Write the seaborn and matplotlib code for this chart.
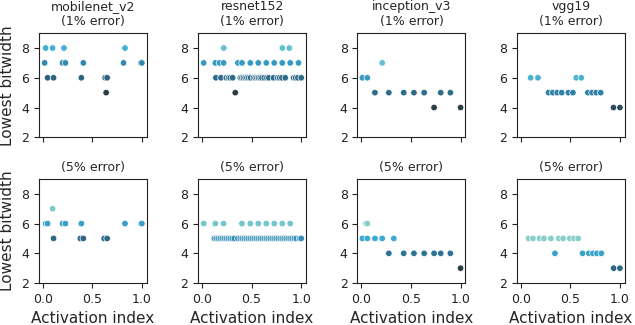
import pandas as pd
import seaborn as sns
import matplotlib.pyplot as plt

models = ["mobilenet_v2", "resnet152", "inception_v3", "vgg19"]
errors = ["(1% error)", "(5% error)"]

# activation index (normalised) and lowest bitwidth
mobilenet_1_x = [0.03, 0.10, 0.215, 0.83, 0.02, 0.20, 0.23, 0.41, 0.815, 0.99, 1.0,
                 0.05, 0.11, 0.39, 0.63, 0.65, 0.64]
mobilenet_1_y = [8, 8, 8, 8, 7, 7, 7, 7, 7, 7, 7, 6, 6, 6, 6, 6, 5]
mobilenet_5_x = [0.10, 0.03, 0.05, 0.20, 0.23, 0.39, 0.83, 0.99, 1.0,
                 0.11, 0.38, 0.41, 0.62, 0.65]
mobilenet_5_y = [7, 6, 6, 6, 6, 6, 6, 6, 6, 5, 5, 5, 5, 5]

resnet_1_x = [0.22, 0.81, 0.88,
              0.017, 0.134, 0.178, 0.218, 0.362, 0.403, 0.487, 0.567, 0.648, 0.728, 0.809,
              0.889, 0.973,
              0.14, 0.191, 0.245, 0.268, 0.285, 0.309, 0.386, 0.403, 0.419, 0.436, 0.453,
              0.470, 0.490, 0.520, 0.537, 0.554, 0.570, 0.587, 0.604, 0.628, 0.654, 0.674,
              0.721, 0.762, 0.782, 0.805, 0.839, 0.923, 0.943, 0.966, 1.0,
              0.335]
resnet_1_y = [8] * 3 + [7] * 13 + [6] * 31 + [5]
resnet_5_x = [0.017, 0.134, 0.218, 0.403, 0.487, 0.567, 0.648, 0.728, 0.809, 0.889,
              0.124, 0.144, 0.164, 0.185, 0.205, 0.225, 0.245, 0.265, 0.285, 0.305, 0.326,
              0.362, 0.386, 0.406, 0.426, 0.446, 0.466, 0.487, 0.507, 0.527, 0.547, 0.567,
              0.587, 0.607, 0.628, 0.648, 0.668, 0.688, 0.708, 0.728, 0.748, 0.768, 0.789,
              0.809, 0.829, 0.849, 0.869, 0.889, 0.909, 0.93, 0.95, 0.983, 1.0]
resnet_5_y = [6] * 10 + [5] * 43

inception_1_x = [0.21, 0.01, 0.06, 0.137, 0.277, 0.427, 0.53, 0.633, 0.80, 0.897, 0.733, 1.0]
inception_1_y = [7, 6, 6, 5, 5, 5, 5, 5, 5, 5, 4, 4]
inception_5_x = [0.045, 0.06, 0.01, 0.06, 0.137, 0.21, 0.327,
                 0.277, 0.427, 0.53, 0.633, 0.733, 0.80, 0.897, 1.0]
inception_5_y = [6, 6, 5, 5, 5, 5, 5, 4, 4, 4, 4, 4, 4, 4, 3]

vgg_1_x = [0.10, 0.174, 0.56, 0.61,
           0.28, 0.323, 0.368, 0.413, 0.48, 0.526, 0.677, 0.719, 0.761, 0.806,
           0.935, 1.0]
vgg_1_y = [6] * 4 + [5] * 10 + [4] * 2
vgg_5_x = [0.079, 0.123, 0.19, 0.234, 0.304, 0.383, 0.427, 0.494, 0.538, 0.579,
           0.345, 0.623, 0.687, 0.728, 0.769, 0.813,
           0.937, 1.0]
vgg_5_y = [5] * 10 + [4] * 6 + [3] * 2

panels = [
    [(mobilenet_1_x, mobilenet_1_y), (resnet_1_x, resnet_1_y),
     (inception_1_x, inception_1_y), (vgg_1_x, vgg_1_y)],
    [(mobilenet_5_x, mobilenet_5_y), (resnet_5_x, resnet_5_y),
     (inception_5_x, inception_5_y), (vgg_5_x, vgg_5_y)],
]

# colour range per panel
hue_norms = [
    [(5, 9.2), (5, 8.5), (4, 7.5), (3.7, 6.8)],
    [(4.3, 7.1), (3.8, 6.2), (3, 6), (2.3, 5)],
]
cmap = sns.blend_palette(["#2c3e4a", "#2e7396", "#3aa9d3", "#86cfca"], as_cmap=True)

sns.set_style("ticks")
plt.rcParams["font.family"] = ["DejaVu Sans"]

fig, axes = plt.subplots(2, 4, figsize=(6.35, 3.25), dpi=100, sharex=True)
plt.subplots_adjust(left=0.061, right=0.984, top=0.898, bottom=0.129, wspace=0.475, hspace=0.40)

for r in range(2):
    for c in range(4):
        ax = axes[r, c]
        xs, ys = panels[r][c]
        df = pd.DataFrame({"Activation index": xs, "Lowest bitwidth": ys})
        sns.scatterplot(data=df, x="Activation index", y="Lowest bitwidth",
                        hue="Lowest bitwidth", palette=cmap, hue_norm=hue_norms[r][c],
                        s=22, edgecolor="white", linewidth=0.5, legend=False, ax=ax)
        if r == 0:
            ax.set_title(models[c] + "\n" + errors[0], fontsize=9)
        else:
            ax.set_title(errors[1], fontsize=9)
        ax.set_xlabel("Activation index" if r == 1 else "", fontsize=11)
        ax.set_ylabel("Lowest bitwidth" if c == 0 else "", fontsize=11)
        ax.set_ylim(2, 9)
        ax.set_yticks([2, 4, 6, 8])
        ax.tick_params(labelsize=9, length=3.5, width=0.8, colors="#222222")
        for sp in ax.spines.values():
            sp.set_color("#222222")

axes[0, 0].set_xticks([0.0, 0.5, 1.0])

plt.savefig("out.png", dpi=100)
